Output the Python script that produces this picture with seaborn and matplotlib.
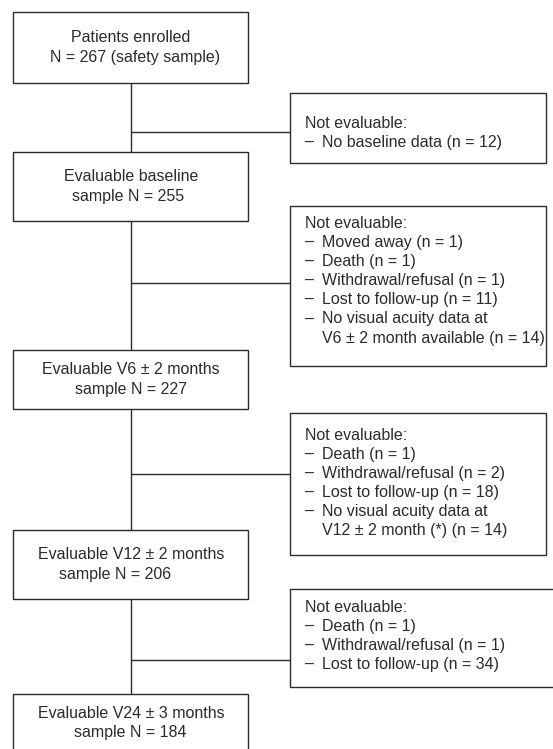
import pandas as pd
import seaborn as sns
import matplotlib.pyplot as plt
from matplotlib.patches import Rectangle

# flow chart content
stage_names = ["Patients enrolled", "Evaluable baseline", "Evaluable V6 \u00b1 2 months",
               "Evaluable V12 \u00b1 2 months", "Evaluable V24 \u00b1 3 months"]
stage_n = [267, 255, 227, 206, 184]

excl_reasons = [
    ["No baseline data"],
    ["Moved away", "Death", "Withdrawal/refusal", "Lost to follow-up",
     "No visual acuity data at\nV6 \u00b1 2 month available"],
    ["Death", "Withdrawal/refusal", "Lost to follow-up",
     "No visual acuity data at\nV12 \u00b1 2 month (*)"],
    ["Death", "Withdrawal/refusal", "Lost to follow-up"],
]
excl_n = [[12], [1, 1, 1, 11, 14], [1, 2, 18, 14], [1, 1, 34]]

# layout (pixels, y downwards)
main_x = (13, 248)
main_cx = 131
main_y = [(12, 83), (152, 221), (350, 409), (530, 599), (694, 752)]
line2_shift = [4, -3, 0, -16, -1]
excl_x = [(290, 546), (290, 546), (290, 546), (290, 556)]
excl_y = [(93, 163), (206, 366), (413, 555), (589, 687)]
excl_text_top = [123, 223, 435, 607]
link_y = [132, 283, 474, 660]
line_step = 19.2

sns.set_style("white")
plt.rcParams['font.family'] = ['Liberation Sans', 'DejaVu Sans']

fig = plt.figure(figsize=(5.53, 7.49), dpi=100)
ax = fig.add_axes([0, 0, 1, 1])

ink = "#2b2b2b"
fs = 11.5

# connector lines
rows = []
seg = 0
for i in range(len(main_y) - 1):
    rows += [(main_cx, main_y[i][1], seg), (main_cx, main_y[i + 1][0], seg)]
    seg += 1
    rows += [(main_cx, link_y[i], seg), (excl_x[i][0], link_y[i], seg)]
    seg += 1
links = pd.DataFrame(rows, columns=["x", "y", "seg"])
sns.lineplot(data=links, x="x", y="y", units="seg", estimator=None, sort=False,
             color=ink, linewidth=1.0, ax=ax, zorder=1)

# main boxes
for i, (top, bot) in enumerate(main_y):
    ax.add_patch(Rectangle((main_x[0], top), main_x[1] - main_x[0], bot - top,
                           fc="white", ec=ink, lw=1.0, zorder=2))
    if i == 0:
        second = f"N = {stage_n[i]} (safety sample)"
    else:
        second = f"sample N = {stage_n[i]}"
    cy = (top + bot) / 2
    ax.text(main_cx, cy - line_step / 2, stage_names[i], ha="center", va="center",
            fontsize=fs, color=ink, zorder=3)
    ax.text(main_cx + line2_shift[i], cy + line_step / 2, second, ha="center", va="center",
            fontsize=fs, color=ink, zorder=3)

# exclusion boxes
for i, (top, bot) in enumerate(excl_y):
    x0, x1 = excl_x[i]
    ax.add_patch(Rectangle((x0, top), x1 - x0, bot - top,
                           fc="white", ec=ink, lw=1.0, zorder=2))
    y = excl_text_top[i]
    ax.text(305, y, "Not evaluable:", ha="left", va="center", fontsize=fs, color=ink, zorder=3)
    for reason, n in zip(excl_reasons[i], excl_n[i]):
        parts = f"{reason} (n = {n})".split("\n")
        for k, part in enumerate(parts):
            y += line_step
            if k == 0:
                ax.text(305, y, "\u2013", ha="left", va="center", fontsize=fs, color=ink, zorder=3)
            ax.text(322, y, part, ha="left", va="center", fontsize=fs, color=ink, zorder=3)

ax.set_xlim(0, 553)
ax.set_ylim(749, 0)
ax.axis("off")

fig.savefig("out.png", dpi=100)
